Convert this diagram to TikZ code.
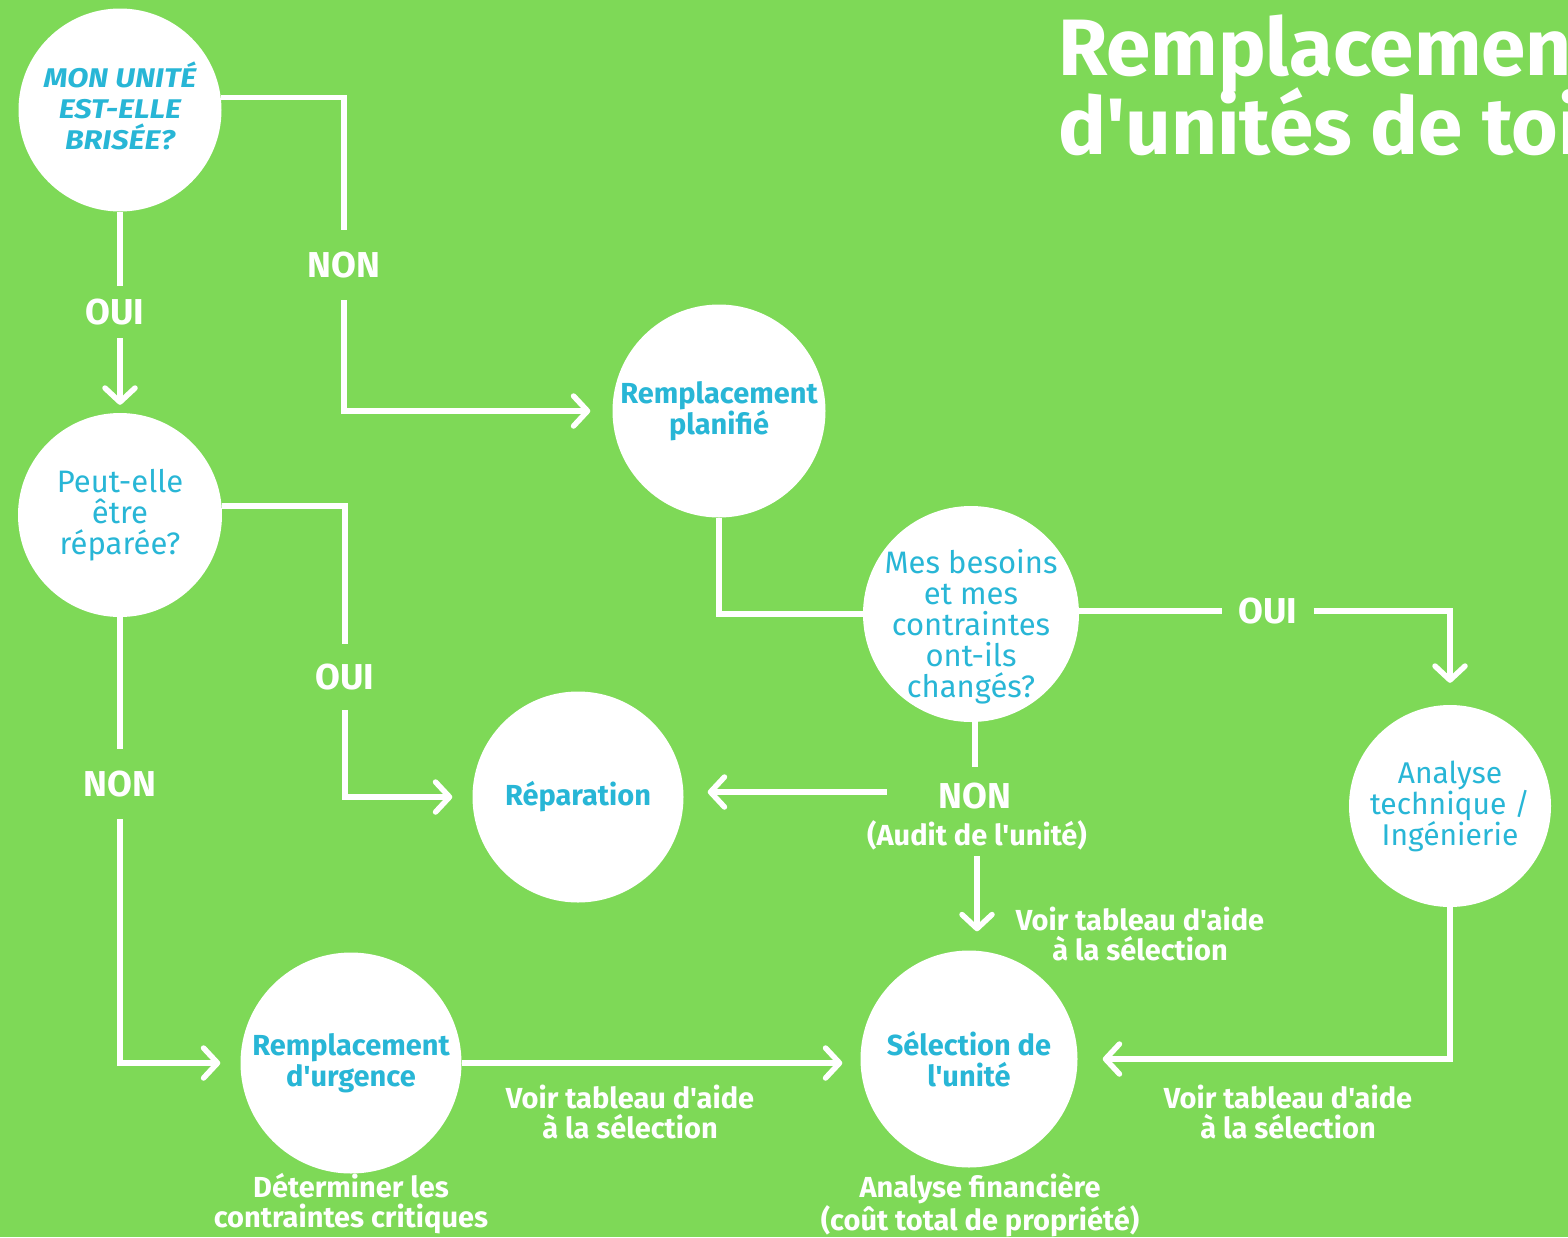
\documentclass[tikz,border=0pt]{standalone}
\usepackage{fontspec}
\setmainfont{Fira Sans}[Ligatures=TeXOff]
\usetikzlibrary{arrows.meta,calc}
\definecolor{bggreen}{RGB}{126,217,87}
\definecolor{txtcyan}{RGB}{40,182,214}
\pgfdeclarelayer{bg}\pgfdeclarelayer{conn}\pgfsetlayers{bg,conn,main}
\newcommand\fsz[2]{\fontsize{#1}{#2}\selectfont}
\begin{document}
\begin{tikzpicture}[x=1pt,y=-1pt,
 bubble/.style={circle,fill=white,text=txtcyan,align=center,inner sep=0pt,minimum size=#1},
 qtxt/.style={font=\fsz{31}{31}},
 btxt/.style={font=\bfseries\fsz{29}{31}},
 intxt/.style={text=txtcyan,align=center,inner sep=0pt},
 yn/.style={text=white,font=\bfseries\fsz{36}{40},inner sep=#1},
 yn/.default=18pt,
 note/.style={text=white,font=\bfseries\fsz{29}{30},align=center,inner sep=0pt},
 conn/.style={draw=white,line width=5.5pt},
 arr/.style={conn,-{Straight Barb[length=14pt,width=30pt,round]}},
 ttl/.style={anchor=base west,text=white,font=\bfseries\fsz{80}{80},inner sep=0pt},
]
\useasboundingbox (0,0) rectangle (1568,1237);
\begin{pgfonlayer}{bg}
\fill[bggreen] (0,0) rectangle (1568,1237);
\end{pgfonlayer}

\begin{scope}
\clip (0,0) rectangle (1568,1237);
\node[ttl] (t1) at (1058,75) {Remplacement};
\node[ttl] (t2) at (1058,154) {d'unités de toiture};
\end{scope}

% bubbles
\node[bubble=203pt] (c1) at (120,110) {};
\node[intxt,font=\bfseries\itshape\fsz{27}{31}\addfontfeatures{FakeStretch=1.14}] (c1t) at (120,106) {MON UNITÉ\\EST-ELLE\\BRISÉE?};
\node[bubble=213pt,btxt] (c2) at (719,411) {Remplacement\\planifié};
\node[bubble=204pt,qtxt] (c3) at (120,515) {Peut-elle\\être\\réparée?};
\node[bubble=216pt] (c4) at (971,614) {};
\node[intxt,qtxt] (c4t) at (971,627) {Mes besoins\\et mes\\contraintes\\ont-ils\\changés?};
\node[bubble=211pt,btxt] (c5) at (578,797) {Réparation};
\node[bubble=202pt,font=\fsz{30}{31}] (c6) at (1450,806) {Analyse\\technique /\\Ingénierie};
\node[bubble=221pt,btxt] (c7) at (351,1063) {Remplacement\\d'urgence};
\node[bubble=217pt,btxt] (c8) at (969,1059) {Sélection de\\l'unité};

% yes/no labels
\node[yn=22pt] (n1) at (344,265) {NON};
\node[yn=13pt] (o1) at (115,312) {OUI};
\node[yn=20pt] (o2) at (345,677) {OUI};
\node[yn=22pt] (n2) at (120,784) {NON};
\node[yn=16pt] (o3) at (1268,611) {OUI};
\node[yn=16pt] (n3) at (975,796) {NON};
\node[note] (au) at (977,835) {(Audit de l'unité)};

% notes
\node[note] (v1) at (1140,934) {Voir tableau d'aide\\à la sélection};
\node[note] (v2) at (630,1112) {Voir tableau d'aide\\à la sélection};
\node[note] (v3) at (1288,1112) {Voir tableau d'aide\\à la sélection};
\node[note] (d1) at (351,1204) {Déterminer les\\contraintes critiques};
\node[note] (a1) at (980,1205) {Analyse financière\\(coût total de propriété)};

\coordinate (nl) at ($(n3.west)+(-36,-4)$);

% connectors
\begin{pgfonlayer}{conn}
\draw[conn] (c1.7) -| (n1.north);
\draw[arr,shorten >=22pt] (n1.south) |- (c2.west);
\draw[conn] (c1.south) -- (c1.south |- o1.north);
\draw[arr,shorten >=8pt] (c1.south |- o1.south) -- (c3.north);
\draw[conn] (c3.5) -| (o2.north);
\draw[arr,shorten >=20pt] (o2.south) |- (c5.west);
\draw[conn] (c3.south) -- (n2.north);
\draw[arr,shorten >=20pt] (n2.south) |- (c7.west);
\draw[conn] (c2.south) |- (c4.west);
\draw[conn] (o3.west -| c4.east) -- (o3.west);
\draw[arr,shorten >=22pt] (o3.east) -| (c6.north);
\draw[conn] (n3.north |- c4.south) -- (n3.north);
\draw[arr,shorten >=24pt] (nl) -- (nl -| c5.east);
\draw[arr,shorten <=6pt,shorten >=19pt] (au.south) -- (au.south |- c8.north);
\draw[arr,shorten >=18pt] (c7.east) -- (c7.east -| c8.west);
\draw[arr,shorten >=25pt] (c6.south) |- (c8.east);
\end{pgfonlayer}
\end{tikzpicture}
\end{document}
